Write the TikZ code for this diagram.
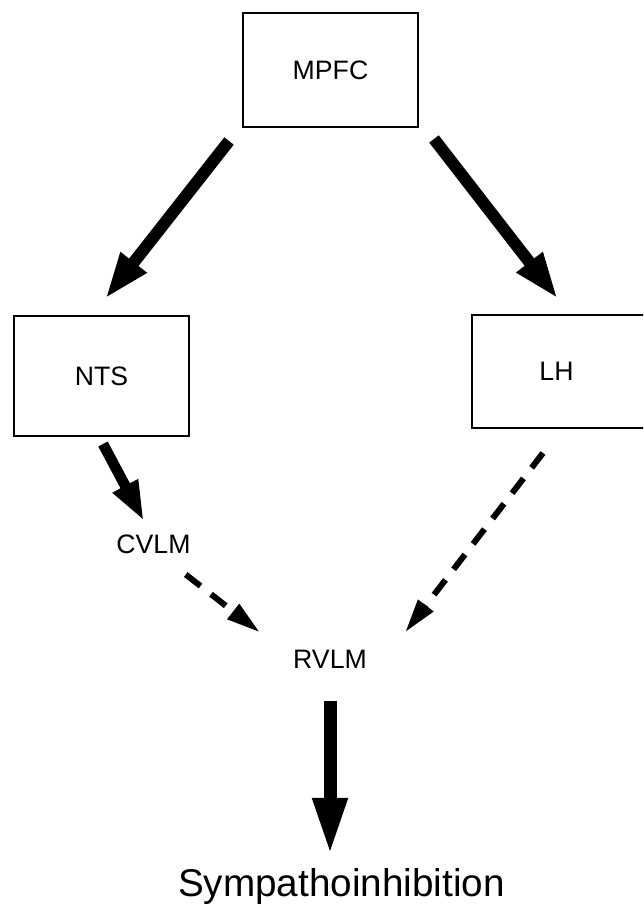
\documentclass[tikz,border=0pt]{standalone}
\usepackage{fontspec}
\setmainfont{Liberation Sans}
\usetikzlibrary{arrows.meta,calc}
\begin{document}
\begin{tikzpicture}[x=0.75pt,y=-0.75pt,
  box/.style={draw,line width=1.5pt,minimum width=131.25pt,inner sep=0pt,font=\fontsize{20}{24}\selectfont},
  lbl/.style={inner sep=0pt,anchor=base,font=\fontsize{20}{24}\selectfont},
  bigarrow/.style={line width=9pt,line cap=butt,-{Triangle[length=35pt,width=22.5pt]}},
  midarrow/.style={line width=8pt,line cap=butt,-{Triangle[length=30pt,width=19.5pt]}},
  dasharrow/.style={line width=4.5pt,line cap=butt,dash pattern=on 14pt off 10pt,-{Triangle[length=25.5pt,width=13.5pt]}},
  downarrow/.style={line width=9.75pt,line cap=butt,-{Triangle[length=43pt,width=24pt]}}]
\useasboundingbox (0,0) rectangle (643,906);
\clip (0,0) rectangle (643,906);
\node[box,minimum height=85.5pt] (mpfc) at (330.5,70) {MPFC};
\node[box,minimum height=90pt] (nts) at (101.5,376) {NTS};
\node[box,minimum height=84.75pt] (lh) at (559.5,371.5) {\hspace*{-4.5pt}LH};
\node[lbl] (cvlm) at (153.5,553) {CVLM};
\node[lbl] (rvlm) at (330,668) {RVLM};
\node[lbl,font=\fontsize{29}{34}\selectfont] (symp) at (341.5,896) {Sympathoinhibition};
\draw[bigarrow] ([shift={(-13,13)}]mpfc.south west) -- ([shift={(3.5,-16)}]nts.north);
\draw[bigarrow] ([shift={(15,11)}]mpfc.south east) -- ([shift={(-1.5,-15)}]lh.north);
\draw[midarrow] ([shift={(1.5,7)}]nts.south) -- ([shift={(-9.5,-13)}]cvlm.north);
\draw[dasharrow] ([shift={(-5,21)}]cvlm.south east) -- ([shift={(-33,-17)}]rvlm.north west);
\draw[dasharrow] ([shift={(-16.5,24)}]lh.south) -- ([shift={(38,-17)}]rvlm.north east);
\draw[downarrow] ([shift={(0,33)}]rvlm.south) -- ([shift={(0,-12.5)}]rvlm.south |- symp.north);
\end{tikzpicture}
\end{document}
